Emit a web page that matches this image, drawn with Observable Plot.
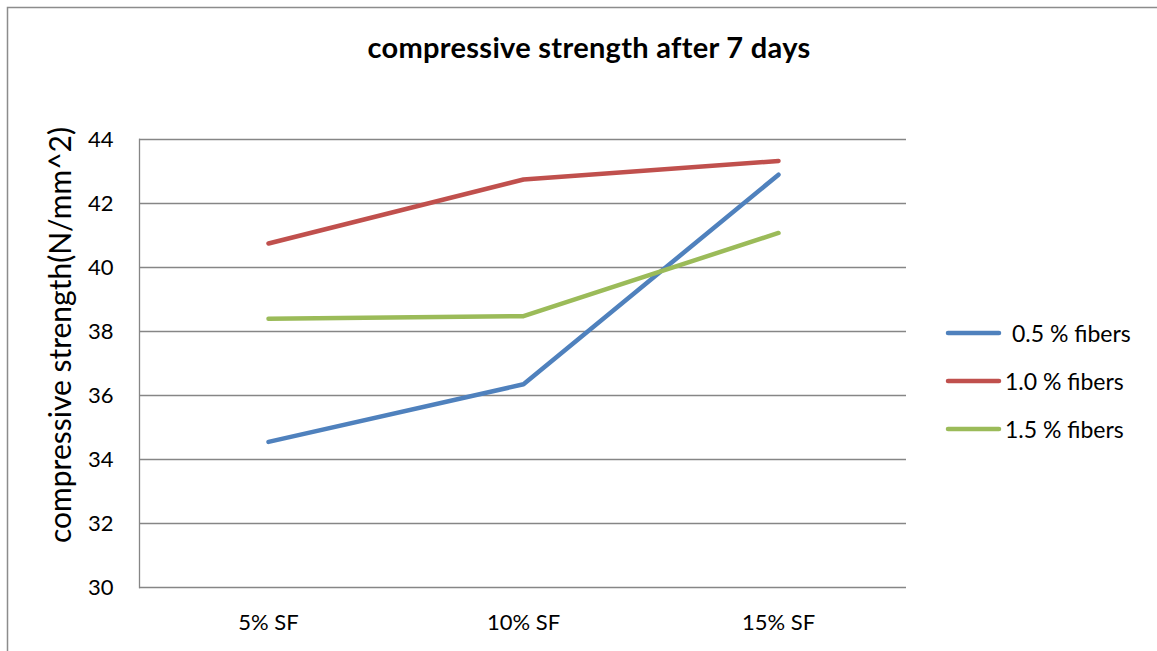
<!DOCTYPE html>
<html>
<head>
<meta charset="utf-8">
<script src="https://cdn.jsdelivr.net/npm/d3@7"></script>
<script src="https://cdn.jsdelivr.net/npm/@observablehq/plot@0.6"></script>
<style>
  html, body { margin: 0; padding: 0; background: #fff; }
  #chart { width: 1157px; height: 651px; overflow: hidden; }
  svg text { font-family: Lato, "Open Sans", sans-serif; }
</style>
</head>
<body>
<div id="chart"></div>
<script>
// Silica fume replacement levels on the x axis
const categories = ["5% SF", "10% SF", "15% SF"];
// Fibre contents, one line each
const seriesNames = ["0.5 % fibers", "1.0 % fibers", "1.5 % fibers"];
const fiber05 = [34.55, 36.35, 42.9];
const fiber10 = [40.75, 42.75, 43.33];
const fiber15 = [38.4, 38.48, 41.08];
const seriesColors = ["#4F81BD", "#C0504D", "#9BBB59"];
const yTicks = [30, 32, 34, 36, 38, 40, 42, 44];
const titleText = "compressive strength after 7 days";
const yLabel = "compressive strength(N/mm^2)";

const seriesValues = [fiber05, fiber10, fiber15];
const rows = seriesNames.flatMap((name, i) =>
  categories.map((c, j) => ({series: name, cat: c, value: seriesValues[i][j]}))
);

const W = 1157, H = 651;
const mL = 139, mR = 251, mT = 139, mB = 64;

const plot = Plot.plot({
  width: W,
  height: H,
  marginLeft: mL,
  marginRight: mR,
  marginTop: mT,
  marginBottom: mB,
  style: {fontFamily: "Lato, 'Open Sans', sans-serif", background: "#fff", color: "#000", overflow: "visible"},
  x: {type: "point", domain: categories, padding: 0.5},
  y: {domain: [30, 44]},
  color: {domain: seriesNames, range: seriesColors},
  marks: [
    Plot.gridY(yTicks, {stroke: "#868686", strokeOpacity: 1, strokeWidth: 1.3}),
    Plot.frame({anchor: "left", stroke: "#868686", strokeWidth: 1.3}),
    Plot.axisY(yTicks, {tickSize: 0, tickPadding: 26, fontSize: 22, label: null, tickFormat: d => d}),
    Plot.axisX({tickSize: 0, tickPadding: 27, fontSize: 22, label: null}),
    Plot.line(rows, {
      x: "cat", y: "value", z: "series", stroke: "series",
      strokeWidth: 4.5, strokeLinecap: "round", strokeLinejoin: "round"
    })
  ]
});

document.getElementById("chart").appendChild(plot);

const svg = d3.select(plot);

// Chart-area border (left and top edges)
svg.append("path")
  .attr("d", `M7.5,${H} V7.5 H${W}`)
  .attr("fill", "none")
  .attr("stroke", "#8c8c8c")
  .attr("stroke-width", 1.5);

// Title
svg.append("text")
  .attr("x", 589)
  .attr("y", 58)
  .attr("text-anchor", "middle")
  .style("font-size", "29px")
  .style("font-weight", "bold")
  .style("letter-spacing", "0.3px")
  .attr("fill", "#000")
  .text(titleText);

// Y-axis title
svg.append("text")
  .attr("transform", `translate(71,335) rotate(-90)`)
  .attr("text-anchor", "middle")
  .style("font-size", "30px")
  .attr("fill", "#000")
  .text(yLabel);

// Legend
const legendY = [333, 381, 429];
const legendTextX = [1012, 1005, 1005];
seriesNames.forEach((name, i) => {
  svg.append("line")
    .attr("x1", 948).attr("x2", 999)
    .attr("y1", legendY[i]).attr("y2", legendY[i])
    .attr("stroke", seriesColors[i])
    .attr("stroke-width", 4.5)
    .attr("stroke-linecap", "round");
  svg.append("text")
    .attr("x", legendTextX[i])
    .attr("y", legendY[i])
    .attr("dy", "0.37em")
    .attr("text-anchor", "start")
    .style("font-size", "23px")
    .attr("fill", "#000")
    .text(name);
});
</script>
</body>
</html>
